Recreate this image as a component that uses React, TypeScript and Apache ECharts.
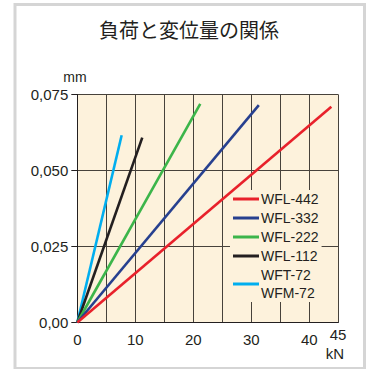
import React, { useEffect, useRef } from "react";
import * as echarts from "echarts";

const titleText = "負荷と変位量の関係";
const seriesNames = ["WFL-442", "WFL-332", "WFL-222", "WFL-112", "WFT-72\nWFM-72"];
const seriesColors = ["#e8212b", "#27408f", "#3cb54a", "#231f20", "#00aeef"];
const loadEnds = [43.8, 31.3, 21.2, 11.2, 7.65];
const dispEnds = [0.071, 0.0715, 0.0719, 0.0608, 0.0616];
const xTickValues = [0, 10, 20, 30, 40];
const yTickValues = [0, 0.025, 0.05, 0.075];
const yTickLabels = ["0,00", "0,025", "0,050", "0,075"];

export default function App() {
  const ref = useRef<HTMLDivElement>(null);
  useEffect(() => {
    if (!ref.current) return;
    const chart = echarts.init(ref.current, null, { renderer: "svg" });
    const font = "'Liberation Sans', Arial, sans-serif";
    const dark = "#231f20";
    const gridColor = "#47423b";
    chart.setOption({
      animation: false,
      backgroundColor: "#ffffff",
      textStyle: { fontFamily: font },
      title: {
        text: titleText,
        left: 184,
        top: 14,
        textAlign: "center",
        textStyle: {
          fontFamily: "'Noto Sans CJK JP', sans-serif",
          fontSize: 20,
          fontWeight: "normal",
          color: dark,
        },
      },
      grid: {
        left: 77.3,
        right: 32.7,
        top: 94.5,
        bottom: 46.5,
        show: true,
        backgroundColor: "#fdf2dc",
        borderWidth: 0,
        containLabel: false,
      },
      xAxis: {
        type: "value",
        min: 0,
        max: 45,
        interval: 5,
        axisLine: { show: true, lineStyle: { color: dark, width: 1 } },
        axisTick: { show: false },
        splitLine: { show: true, lineStyle: { color: gridColor, width: 1 } },
        axisLabel: {
          customValues: xTickValues,
          margin: 9,
          fontSize: 15,
          color: dark,
          fontFamily: font,
        },
      },
      yAxis: {
        type: "value",
        min: 0,
        max: 0.075,
        interval: 0.0125,
        axisLine: { show: true, lineStyle: { color: dark, width: 1 } },
        axisTick: {
          show: true,
          customValues: yTickValues,
          length: 6,
          lineStyle: { color: dark, width: 1 },
        },
        splitLine: { show: true, lineStyle: { color: gridColor, width: 1 } },
        axisLabel: {
          customValues: yTickValues,
          margin: 9,
          fontSize: 15,
          color: dark,
          fontFamily: font,
          formatter: (v: number) => yTickLabels[Math.round(v / 0.025)] ?? "",
        },
      },
      legend: {
        orient: "vertical",
        left: 230,
        top: 190,
        padding: [0, 3, 0, 3],
        backgroundColor: "#fdf2dc",
        itemGap: 1,
        itemWidth: 26,
        itemHeight: 3,
        icon: "rect",
        align: "left",
        data: seriesNames,
        textStyle: {
          fontSize: 14,
          lineHeight: 18,
          color: dark,
          fontFamily: font,
          padding: [0, 0, 0, -3],
        },
      },
      graphic: [
        {
          type: "rect",
          shape: { x: 15, y: 4.5, width: 349.5, height: 364 },
          style: { fill: "none", stroke: "#d5d5d5", lineWidth: 3 },
          silent: true,
        },
        {
          type: "text",
          x: 75,
          y: 77,
          style: {
            text: "mm",
            font: `14px ${font}`,
            fill: dark,
            align: "center",
            verticalAlign: "middle",
          },
        },
        {
          type: "text",
          x: 338,
          y: 334,
          style: {
            text: "45",
            font: `15px ${font}`,
            fill: dark,
            align: "center",
            verticalAlign: "middle",
          },
        },
        {
          type: "text",
          x: 335,
          y: 353,
          style: {
            text: "kN",
            font: `15px ${font}`,
            fill: dark,
            align: "center",
            verticalAlign: "middle",
          },
        },
      ],
      series: seriesNames.map((name, i) => ({
        name,
        type: "line",
        data: [
          [0, 0],
          [loadEnds[i], dispEnds[i]],
        ],
        showSymbol: false,
        symbol: "none",
        z: 5 - i + 2,
        lineStyle: { color: seriesColors[i], width: 2.6 },
        itemStyle: { color: seriesColors[i] },
      })),
    });
    return () => chart.dispose();
  }, []);
  return (
    <div
      ref={ref}
      style={{ position: "fixed", left: 0, top: 0, width: 371, height: 369 }}
    />
  );
}
